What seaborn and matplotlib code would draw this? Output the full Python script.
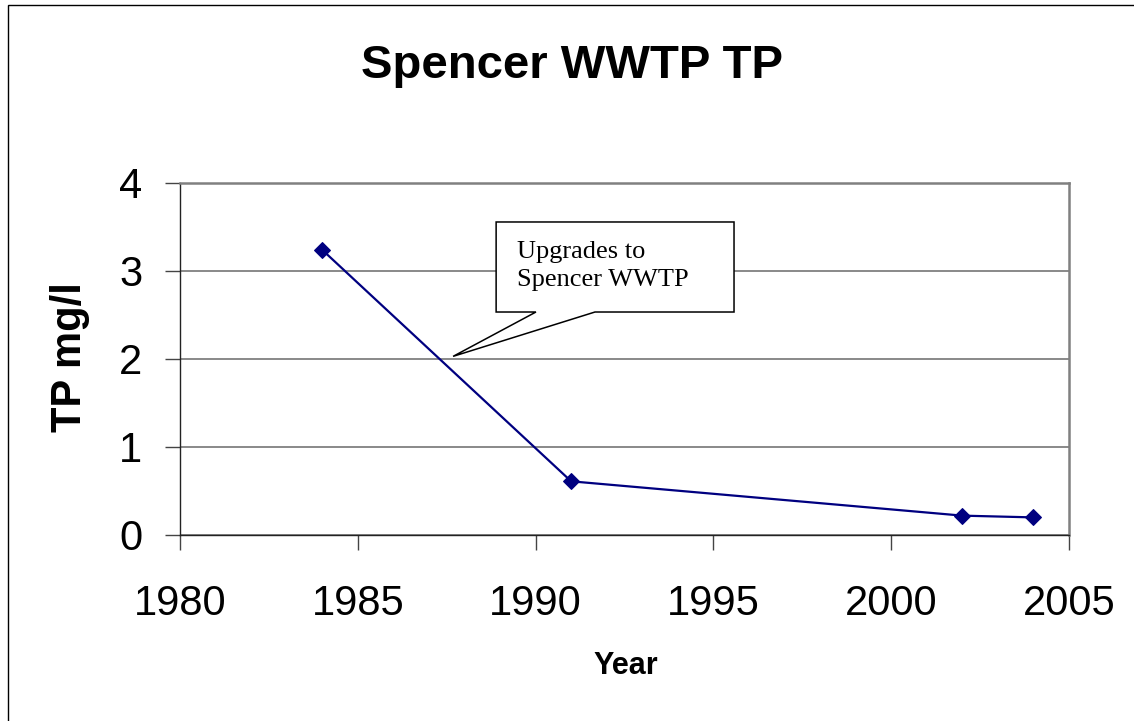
import numpy as np
import pandas as pd
import matplotlib
matplotlib.use("Agg")
import matplotlib.pyplot as plt
from matplotlib.patches import Rectangle, Polygon
import seaborn as sns

# data
years = [1984, 1991, 2002, 2004]
tp_mgl = [3.24, 0.61, 0.22, 0.20]
x_ticks = [1980, 1985, 1990, 1995, 2000, 2005]
y_ticks = [0, 1, 2, 3, 4]

df = pd.DataFrame({"Year": years, "TP": tp_mgl})

sns.set_style("white", {"text.color": "black", "axes.labelcolor": "black",
                        "xtick.color": "black", "ytick.color": "black",
                        "xtick.bottom": True, "ytick.left": True})
plt.rcParams["font.family"] = ["Liberation Sans", "DejaVu Sans"]

fig = plt.figure(figsize=(11.34, 7.21), dpi=100)
ax = fig.add_axes([180 / 1134, 1 - 535 / 721, 889 / 1134, 352 / 721])

ax.grid(axis="y", color="#808080", linewidth=1.3)
ax.set_axisbelow(True)

sns.lineplot(data=df, x="Year", y="TP", ax=ax, color="#000080", linewidth=1.6,
             marker="D", markersize=8.5, markeredgecolor="#000080", zorder=3)

ax.set_xlim(1980, 2005)
ax.set_ylim(0, 4)
ax.set_xticks(x_ticks)
ax.set_yticks(y_ticks)
ax.tick_params(axis="both", direction="out", length=11, width=1, color="#444444",
               labelsize=30, labelcolor="black", bottom=True, left=True)
ax.tick_params(axis="x", pad=24)
ax.tick_params(axis="y", pad=16)

for s in ["left", "bottom"]:
    ax.spines[s].set_color("#222222")
    ax.spines[s].set_linewidth(1.0)
for s in ["top", "right"]:
    ax.spines[s].set_color("#808080")
    ax.spines[s].set_linewidth(1.8)

ax.set_xlabel("Year", fontsize=22, fontweight="bold", color="black")
ax.set_ylabel("TP mg/l", fontsize=30, fontweight="bold", color="black")
ax.xaxis.set_label_coords(0.5017, -0.372)
ax.xaxis.label.set_va("center")
ax.yaxis.set_label_coords(-0.1237, 0.5057)
ax.yaxis.label.set_va("center")

# callout box
callout = [(1988.89, 3.557), (1995.58, 3.557), (1995.58, 2.534), (1991.67, 2.534),
           (1987.68, 2.03), (1990.01, 2.534), (1988.89, 2.534)]
ax.add_patch(Polygon(callout, closed=True, facecolor="white", edgecolor="black",
                     linewidth=1.1, zorder=4, clip_on=False))
ax.text(1989.48, 3.06, "Upgrades to\nSpencer WWTP", ha="left", va="center",
        fontsize=19, family="Liberation Serif", linespacing=1.35, zorder=5,
        color="black")

fig.text(572 / 1134, 1 - 66 / 721, "Spencer WWTP TP", ha="center", va="center",
         fontsize=34, fontweight="bold", color="black")

# outer chart frame
fig.add_artist(Rectangle((8 / 1134, -0.1), 1.2, 1.1 - 5 / 721, fill=False,
                         edgecolor="black", linewidth=1.0, transform=fig.transFigure))

fig.savefig("out.png", dpi=100)
